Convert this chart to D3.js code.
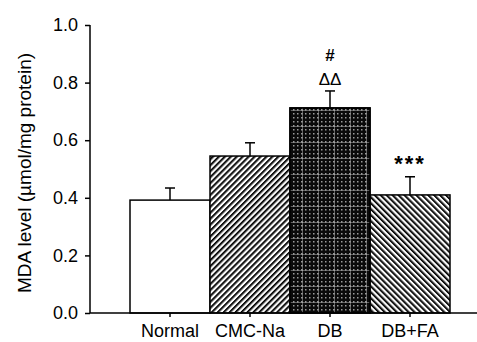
<!DOCTYPE html>
<html>
<head>
<meta charset="utf-8">
<script src="https://cdn.jsdelivr.net/npm/d3@7"></script>
<style>
  body { margin: 0; background: #fff; }
  svg { display: block; }
  text { font-family: "Liberation Sans", Arial, sans-serif; fill: #000; }
</style>
</head>
<body>
<div id="chart"></div>
<script>
// data
const groups = ['Normal', 'CMC-Na', 'DB', 'DB+FA'];
const means = [0.392, 0.545, 0.712, 0.410];
const errors = [0.042, 0.046, 0.059, 0.063];
const fills = ['white', 'url(#hatchFwd)', 'url(#dots)', 'url(#hatchBack)'];
const yTicks = [0, 0.2, 0.4, 0.6, 0.8, 1.0];
// significance marks above bars: [group, text lines from top]
const marks = [
  { group: 'DB', lines: ['#', 'ΔΔ'] },
  { group: 'DB+FA', lines: ['***'] }
];

const width = 477, height = 342;
const svg = d3.select('#chart').append('svg')
  .attr('width', width)
  .attr('height', height);

// 1. 填充图案
const defs = svg.append('defs');
function stripes(id, angle) {
  const p = defs.append('pattern')
    .attr('id', id)
    .attr('patternUnits', 'userSpaceOnUse')
    .attr('width', 4.2).attr('height', 4.2)
    .attr('patternTransform', `rotate(${angle})`);
  p.append('rect').attr('width', 4.2).attr('height', 4.2).attr('fill', '#fff');
  p.append('rect').attr('width', 1.6).attr('height', 4.2).attr('fill', '#000');
  p.append('rect').attr('x', 1.6).attr('width', 0.9).attr('height', 4.2).attr('fill', '#888');
}
stripes('hatchFwd', 45);
stripes('hatchBack', -45);

const dots = defs.append('pattern')
  .attr('id', 'dots')
  .attr('patternUnits', 'userSpaceOnUse')
  .attr('width', 4).attr('height', 4);
dots.append('rect').attr('width', 4).attr('height', 4).attr('fill', '#0a0a0a');
dots.append('rect').attr('x', 1).attr('y', 1).attr('width', 1.5).attr('height', 1.5).attr('fill', '#9a9a9a');

const grid = defs.append('pattern')
  .attr('id', 'grid')
  .attr('patternUnits', 'userSpaceOnUse')
  .attr('width', 16).attr('height', 16);
grid.append('rect').attr('y', 14).attr('width', 16).attr('height', 1).attr('fill', 'rgba(255,255,255,0.35)');
grid.append('rect').attr('x', 14).attr('width', 1).attr('height', 16).attr('fill', 'rgba(255,255,255,0.35)');

// 2. 比例尺
const x = d3.scaleBand().domain(groups).range([130, 450]).padding(0);
const y = d3.scaleLinear().domain([0, 1]).range([313, 25]);

// 3. 柱子
const bars = svg.append('g');
bars.selectAll('rect.bar')
  .data(groups)
  .join('rect')
  .attr('class', 'bar')
  .attr('x', d => x(d))
  .attr('y', (d, i) => y(means[i]))
  .attr('width', x.bandwidth())
  .attr('height', (d, i) => y(0) - y(means[i]))
  .attr('fill', (d, i) => fills[i])
  .attr('stroke', '#000')
  .attr('stroke-width', 1.5);

// grid overlay on the DB bar
bars.append('rect')
  .attr('x', x('DB'))
  .attr('y', y(means[2]))
  .attr('width', x.bandwidth())
  .attr('height', y(0) - y(means[2]))
  .attr('fill', 'url(#grid)')
  .attr('stroke', '#000')
  .attr('stroke-width', 1.5);

// 4. 误差线
const err = svg.append('g').attr('stroke', '#000').attr('stroke-width', 1.5);
groups.forEach((g, i) => {
  const cx = x(g) + x.bandwidth() / 2;
  err.append('line')
    .attr('x1', cx).attr('x2', cx)
    .attr('y1', y(means[i])).attr('y2', y(means[i] + errors[i]));
  err.append('line')
    .attr('x1', cx - 5).attr('x2', cx + 5)
    .attr('y1', y(means[i] + errors[i])).attr('y2', y(means[i] + errors[i]));
});

// 5. 坐标轴
const yAxis = svg.append('g')
  .attr('transform', 'translate(90,0)')
  .call(d3.axisLeft(y).tickValues(yTicks).tickFormat(d3.format('.1f')).tickSize(5).tickPadding(7));
yAxis.select('.domain').attr('d', `M0,${y(1)}V${y(0)}`).attr('stroke-width', 1.5);
yAxis.selectAll('line').attr('stroke-width', 1.5);
yAxis.selectAll('text').style('font-size', '18px');

const xAxis = svg.append('g')
  .attr('transform', `translate(0,${y(0)})`)
  .call(d3.axisBottom(x).tickSize(4).tickPadding(7));
xAxis.select('.domain').attr('d', 'M90,0H477').attr('stroke-width', 1.5);
xAxis.selectAll('line').attr('stroke-width', 1.5);
xAxis.selectAll('text').style('font-size', '18px');

svg.append('text')
  .attr('transform', `translate(31,173) rotate(-90)`)
  .attr('text-anchor', 'middle')
  .style('font-size', '19px')
  .text('MDA level (µmol/mg protein)');

// 6. 显著性标记
marks.forEach(m => {
  const i = groups.indexOf(m.group);
  const cx = x(m.group) + x.bandwidth() / 2;
  const top = y(means[i] + errors[i]);
  const n = m.lines.length;
  m.lines.forEach((t, k) => {
    const isStar = t === '***';
    svg.append('text')
      .attr('x', cx)
      .attr('y', isStar ? top - 6 : top - 6 - (n - 1 - k) * 24)
      .attr('text-anchor', 'middle')
      .style('font-size', isStar ? '22px' : '17px')
      .style('font-weight', t === 'ΔΔ' ? 'normal' : 'bold')
      .style('letter-spacing', isStar ? '2px' : '0px')
      .text(t);
  });
});
</script>
</body>
</html>
